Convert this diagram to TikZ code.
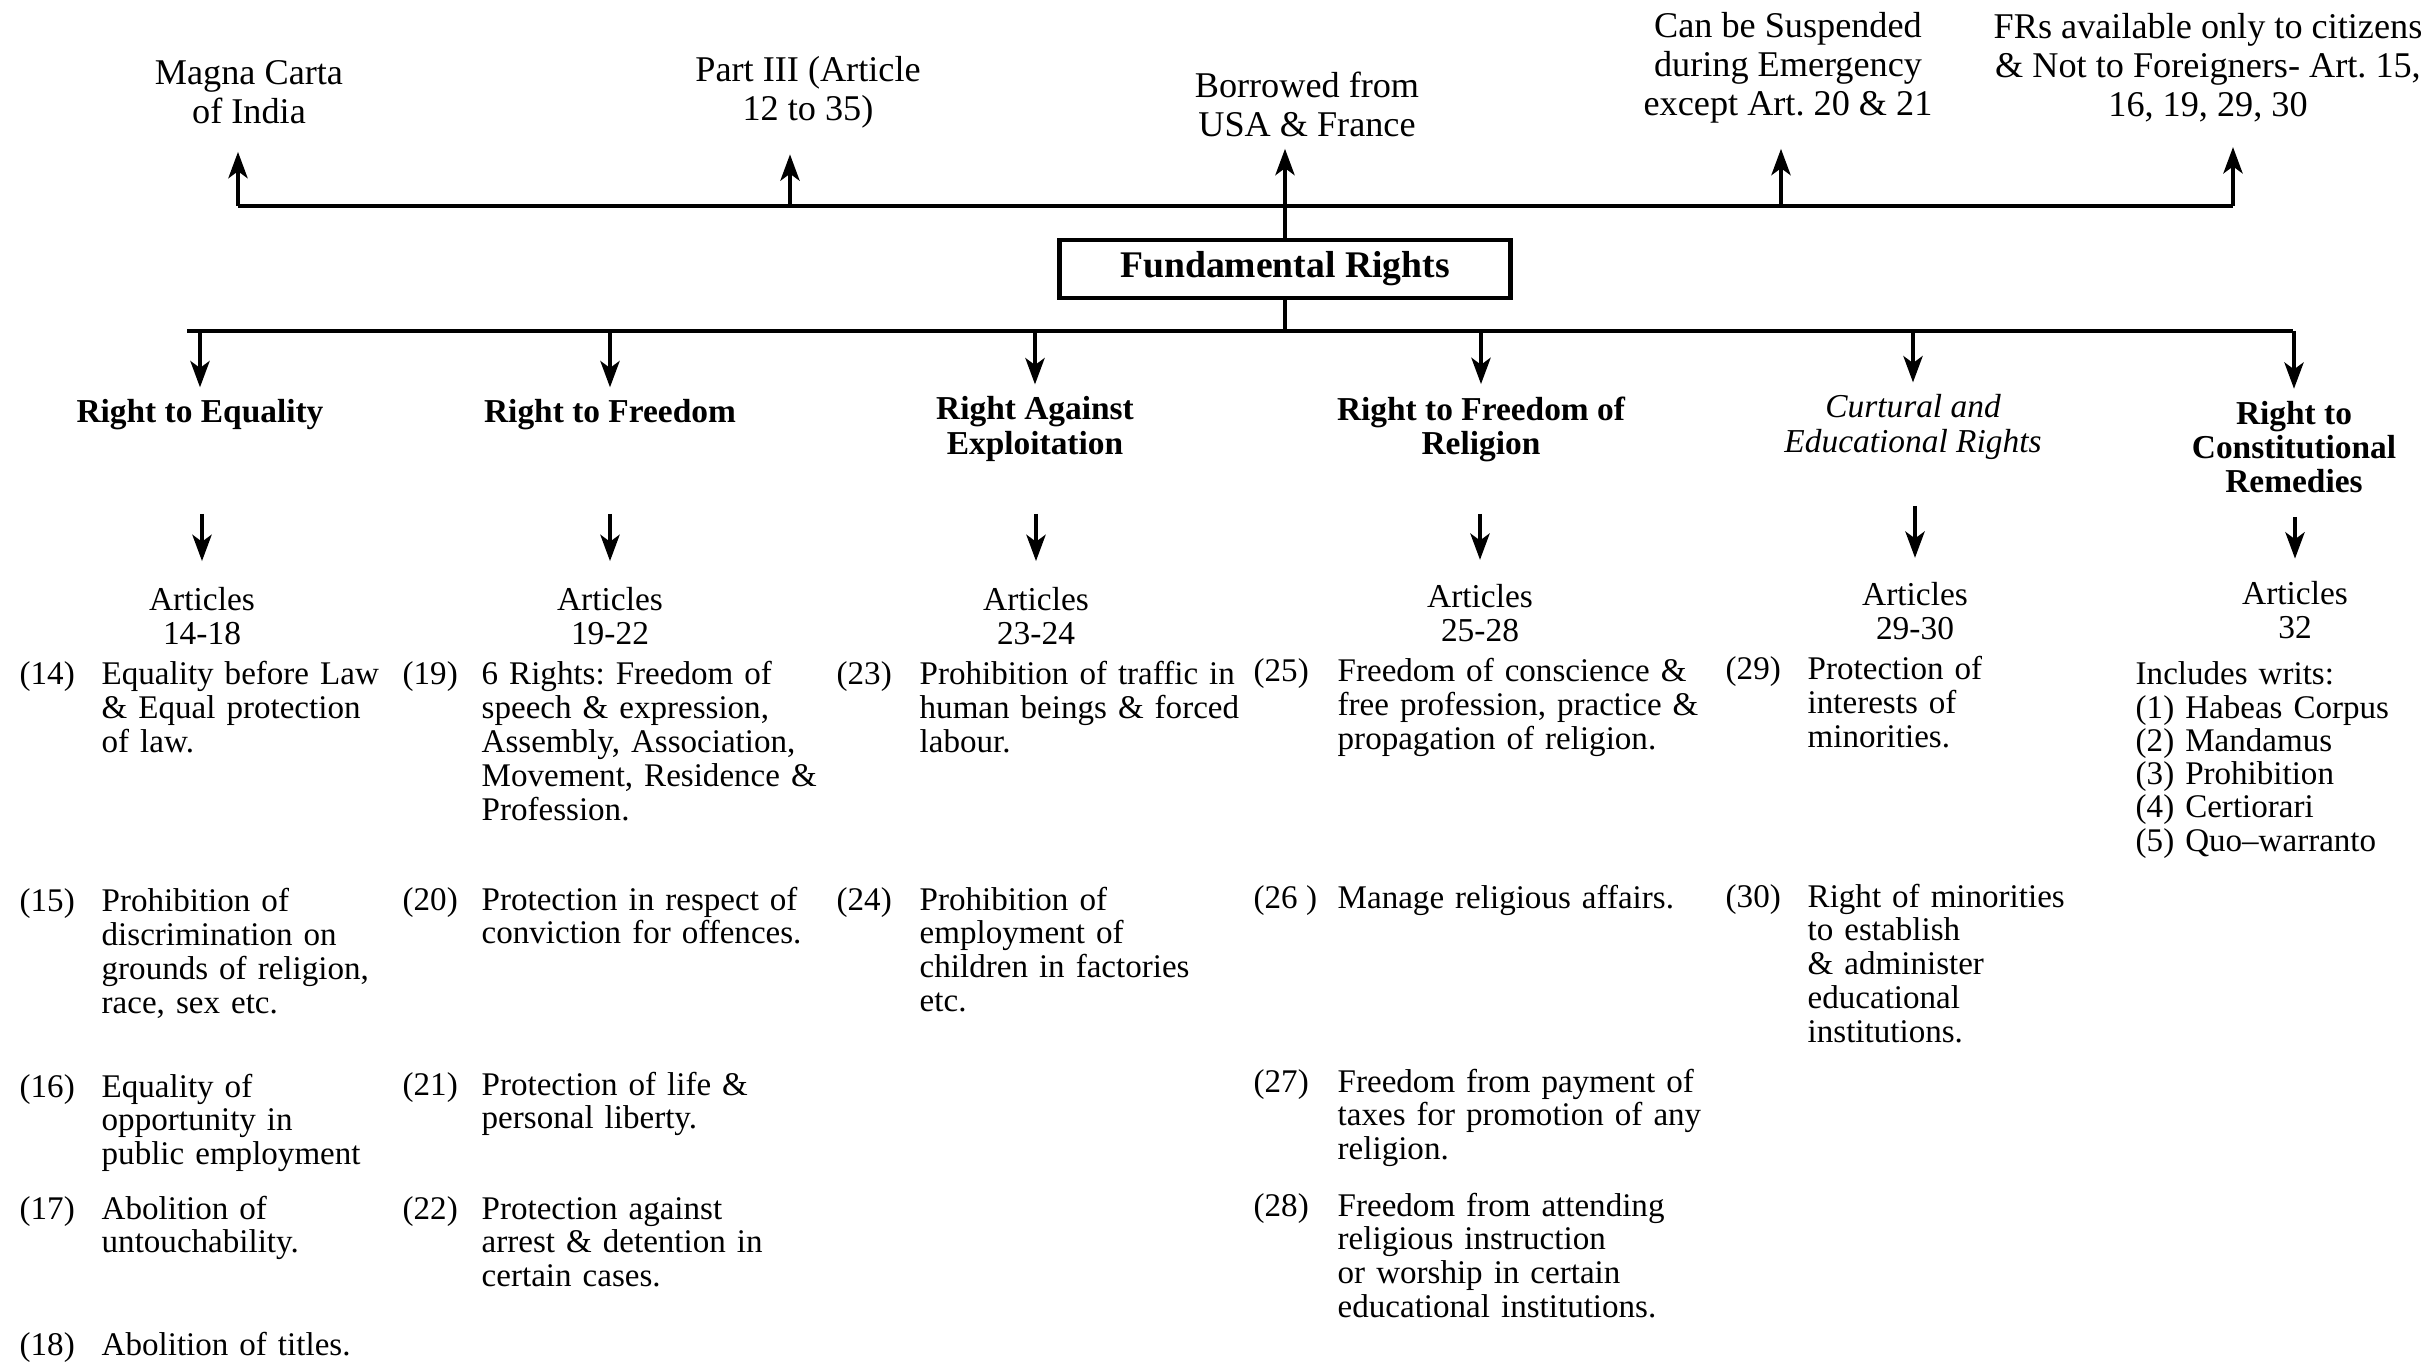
\documentclass[tikz,border=0pt]{standalone}
\usepackage{fontspec}
\setmainfont{Liberation Serif}
\usetikzlibrary{arrows.meta, positioning}
\frenchspacing

\begin{document}
\begin{tikzpicture}[x=0.01cm, y=-0.01cm,
    arr/.style={-{Stealth[length=7.5pt, width=5.5pt, inset=2pt]}, line width=0.9pt},
    bus/.style={line width=1pt},
    lbl/.style={align=center, font=\fontsize{10.3}{11.1}\selectfont},
    cat/.style={align=center, font=\fontsize{9.5}{9.7}\selectfont\bfseries},
    art/.style={align=center, font=\fontsize{9.5}{9.5}\selectfont},
    num/.style={anchor=base west, inner sep=0pt, font=\fontsize{9.4}{9.6}\selectfont},
    desc/.style={anchor=base west, inner sep=0pt, text width=4.2cm, align=left,
      font=\fontsize{9.4}{9.6}\selectfont}]

  \useasboundingbox (0,0) rectangle (2435,1364);

  % Top labels
  \node[lbl] (Magna) at (249,92) {Magna Carta\\of India};
  \node[lbl] (PartIII) at (808,92) {Part III (Article\\12 to 35)};
  \node[lbl] (Borrowed) at (1307,104) {Borrowed from\\USA \& France};
  \node[lbl] (Suspend) at (1788,68) {Can be Suspended\\during Emergency\\except Art. 20 \& 21};
  \node[lbl] (Citizens) at (2208,68) {FRs available only to citizens\\\& Not to Foreigners- Art. 15,\\16, 19, 29, 30};

  % Central box
  \node[draw, line width=1.3pt, minimum width=4.51cm, minimum height=0.55cm,
    font=\fontsize{10.7}{12}\selectfont\bfseries] (FR) at (1285,269) {Fundamental Rights};

  % Upper bus and arrows
  \coordinate (TL) at (238,206);
  \coordinate (T2) at (790,206);
  \coordinate (T4) at (1781,206);
  \coordinate (TR) at (2233,206);
  \draw[bus] (TL) -- (TR);
  \draw[arr, shorten >=4.5pt] (TL) -- (TL |- Magna.south);
  \draw[arr, shorten >=4pt] (T2) -- (T2 |- PartIII.south);
  \draw[arr] (FR.north) -- (FR.north |- Borrowed.south);
  \draw[arr, shorten >=3.7pt] (T4) -- (T4 |- Suspend.south);
  \draw[arr, shorten >=3.5pt] (TR) -- (TR |- Citizens.south);

  % Categories
  \node[cat] (Eq) at (200,415) {Right to Equality};
  \node[cat] (Fr) at (610,415) {Right to Freedom};
  \node[cat] (Ex) at (1035,429) {Right Against\\Exploitation};
  \node[cat] (Rel) at (1481,429) {Right to Freedom of\\Religion};
  \node[cat, font=\fontsize{9.5}{9.7}\selectfont\itshape] (Cul) at (1913,427) {Curtural and\\Educational Rights};
  \node[cat] (Rem) at (2294,447) {Right to\\Constitutional\\Remedies};

  % Lower bus and arrows
  \coordinate (BL) at (187,331);
  \coordinate (BR) at (2293,331);
  \draw[bus] (BL) -- (BR);
  \draw[bus] (FR.south) -- (FR.south |- BL);
  \draw[arr] (Eq.north |- BL) -- (Eq.north);
  \draw[arr] (Fr.north |- BL) -- (Fr.north);
  \draw[arr] (Ex.north |- BL) -- (Ex.north);
  \draw[arr] (Rel.north |- BL) -- (Rel.north);
  \draw[arr] (Cul.north |- BL) -- (Cul.north);
  \draw[arr] (Rem.north |- BL) -- (Rem.north);

  % Articles
  \node[art] (ArtEq) at (202,616) {Articles\\14-18};
  \node[art] (ArtFr) at (610,616) {Articles\\19-22};
  \node[art] (ArtEx) at (1036,616) {Articles\\23-24};
  \node[art] (ArtRel) at (1480,613) {Articles\\25-28};
  \node[art] (ArtCul) at (1915,611) {Articles\\29-30};
  \node[art] (ArtRem) at (2295,610) {Articles\\32};

  \draw[arr, shorten >=4pt] (ArtEq.north |- 0,514) -- (ArtEq.north);
  \draw[arr, shorten >=4pt] (ArtFr.north |- 0,514) -- (ArtFr.north);
  \draw[arr, shorten >=4pt] (ArtEx.north |- 0,514) -- (ArtEx.north);
  \draw[arr, shorten >=3.5pt] (ArtRel.north |- 0,514) -- (ArtRel.north);
  \draw[arr, shorten >=3.5pt] (ArtCul.north |- 0,506) -- (ArtCul.north);
  \draw[arr, shorten >=3pt] (ArtRem.north |- 0,517) -- (ArtRem.north);

  % Right to Equality
  \node[num] (N14) at (19,685) {(14)};
  \node[desc] (T14) at (101,685) {Equality before Law\\\& Equal protection\\of law.};
  \node[num] (N15) at (19,912) {(15)};
  \node[desc] (T15) at (101,912) {Prohibition of\\discrimination on\\grounds of religion,\\race, sex etc.};
  \node[num] (N16) at (19,1097) {(16)};
  \node[desc] (T16) at (101,1097) {Equality of\\opportunity in\\public employment};
  \node[num] (N17) at (19,1219) {(17)};
  \node[desc] (T17) at (101,1219) {Abolition of\\untouchability.};
  \node[num] (N18) at (19,1355) {(18)};
  \node[desc] (T18) at (101,1355) {Abolition of titles.};

  % Right to Freedom
  \node[num] (N19) at (402,685) {(19)};
  \node[desc] (T19) at (481,685) {6 Rights: Freedom of\\speech \& expression,\\Assembly, Association,\\Movement, Residence \&\\Profession.};
  \node[num] (N20) at (402,910) {(20)};
  \node[desc] (T20) at (481,910) {Protection in respect of\\conviction for offences.};
  \node[num] (N21) at (402,1095) {(21)};
  \node[desc] (T21) at (481,1095) {Protection of life \&\\personal liberty.};
  \node[num] (N22) at (402,1219) {(22)};
  \node[desc] (T22) at (481,1219) {Protection against\\arrest \& detention in\\certain cases.};

  % Right Against Exploitation
  \node[num] (N23) at (836,685) {(23)};
  \node[desc] (T23) at (919,685) {Prohibition of traffic in\\human beings \& forced\\labour.};
  \node[num] (N24) at (836,910) {(24)};
  \node[desc] (T24) at (919,910) {Prohibition of\\employment of\\children in factories\\etc.};

  % Right to Freedom of Religion
  \node[num] (N25) at (1253,682) {(25)};
  \node[desc] (T25) at (1337,682) {Freedom of conscience \&\\free profession, practice \&\\propagation of religion.};
  \node[num] (N26) at (1253,909) {(26 )};
  \node[desc] (T26) at (1337,909) {Manage religious affairs.};
  \node[num] (N27) at (1253,1092) {(27)};
  \node[desc] (T27) at (1337,1092) {Freedom from payment of\\taxes for promotion of any\\religion.};
  \node[num] (N28) at (1253,1216) {(28)};
  \node[desc] (T28) at (1337,1216) {Freedom from attending\\religious instruction\\or worship in certain\\educational institutions.};

  % Cultural and Educational Rights
  \node[num] (N29) at (1725,680) {(29)};
  \node[desc] (T29) at (1807,680) {Protection of\\interests of\\minorities.};
  \node[num] (N30) at (1725,907) {(30)};
  \node[desc] (T30) at (1807,907) {Right of minorities\\to establish\\\& administer\\educational\\institutions.};

  % Constitutional Remedies
  \node[desc, font=\fontsize{9.4}{9.45}\selectfont] (Writs) at (2135,685) {Includes writs:\\(1) Habeas Corpus\\(2) Mandamus\\(3) Prohibition\\(4) Certiorari\\(5) Quo--warranto};
\end{tikzpicture}
\end{document}
